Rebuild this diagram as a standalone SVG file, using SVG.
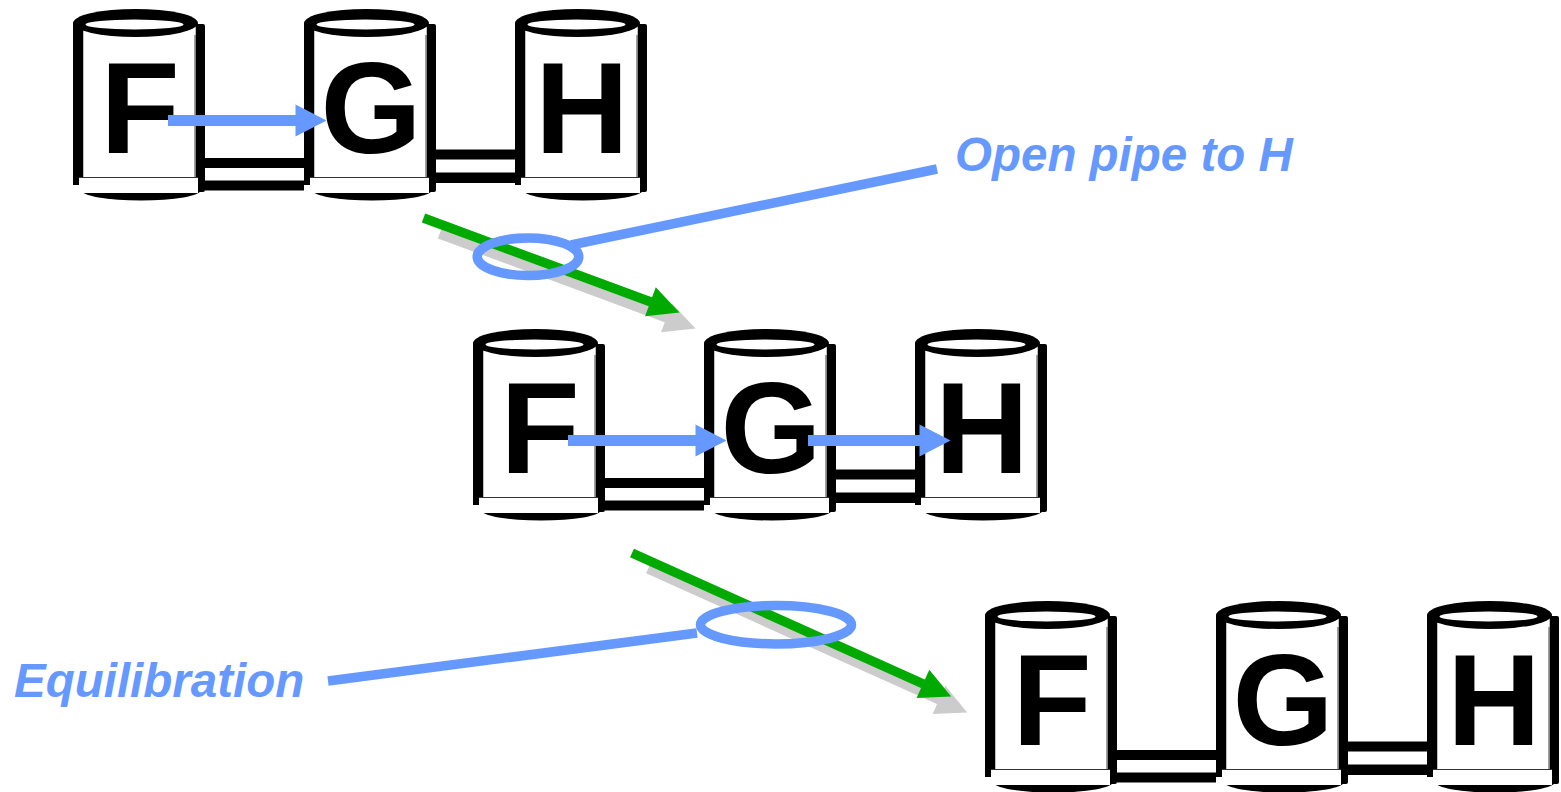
<svg xmlns="http://www.w3.org/2000/svg" xmlns:xlink="http://www.w3.org/1999/xlink" width="1561" height="792" viewBox="0 0 1561 792">
  <style>
    .letter { font-family: "Liberation Sans", Arial, sans-serif; font-weight: bold; font-size: 130px; text-anchor: middle; fill: #000; }
    .label { font-family: "Liberation Sans", Arial, sans-serif; font-weight: bold; font-style: italic; font-size: 47.5px; fill: #6699FF; }
    .pipe { fill: #000; }
    .flow { stroke: #6699FF; stroke-width: 11; fill: none; marker-end: url(#blueHead); }
    .step { stroke: #00AA00; stroke-width: 9.5; fill: none; marker-end: url(#greenHead); }
    .step-shadow { stroke: #CCCCCC; stroke-width: 9.5; fill: none; marker-end: url(#grayHead); }
    .callout { stroke: #6699FF; stroke-width: 9.5; fill: none; }
  </style>
  <defs>
    <!-- storage tank: top at y=0, left wall at x=0 -->
    <g id="cyl">
      <ellipse cx="68" cy="181" rx="60" ry="10.5" fill="#000"/>
      <rect x="122.5" y="15" width="9.5" height="168" rx="2" fill="#000"/>
      <rect x="0" y="14" width="10.5" height="162" fill="#000"/>
      <rect x="10.5" y="14" width="112" height="154" fill="#fff"/>
      <line x1="122" y1="26" x2="122" y2="168" stroke="#444" stroke-width="1"/>
      <rect x="6" y="168" width="119" height="16" fill="#fff"/>
      <line x1="6" y1="168.5" x2="125" y2="168.5" stroke="#333" stroke-width="1"/>
      <ellipse cx="62.5" cy="14" rx="62.5" ry="14" fill="#000"/>
      <ellipse cx="61.5" cy="15.5" rx="49" ry="5" fill="#fff"/>
    </g>
    <marker id="blueHead" markerUnits="userSpaceOnUse" markerWidth="31" markerHeight="32" refX="0.5" refY="16" orient="auto" overflow="visible">
      <path d="M0,0 L31,16 L0,32 Z" fill="#6699FF"/>
    </marker>
    <marker id="greenHead" markerUnits="userSpaceOnUse" markerWidth="31" markerHeight="31" refX="0.5" refY="15.5" orient="auto" overflow="visible">
      <path d="M0,0 L31,15.5 L0,31 Z" fill="#00AA00"/>
    </marker>
    <marker id="grayHead" markerUnits="userSpaceOnUse" markerWidth="31" markerHeight="31" refX="0.5" refY="15.5" orient="auto" overflow="visible">
      <path d="M0,0 L31,15.5 L0,31 Z" fill="#CCCCCC"/>
    </marker>
  </defs>

  <rect width="1561" height="792" fill="#fff"/>

  <!-- stage 1 -->
  <g id="s1-F" transform="translate(73,9)"><use xlink:href="#cyl"/><text class="letter" x="67" y="144">F</text></g>
  <g id="s1-G" transform="translate(304,9)"><use xlink:href="#cyl"/><text class="letter" x="67" y="144">G</text></g>
  <g id="s1-H" transform="translate(515,9)"><use xlink:href="#cyl"/><text class="letter" x="67" y="144">H</text></g>

  <!-- stage 2 -->
  <g id="s2-F" transform="translate(473,329)"><use xlink:href="#cyl"/><text class="letter" x="67" y="144">F</text></g>
  <g id="s2-G" transform="translate(704,329)"><use xlink:href="#cyl"/><text class="letter" x="67" y="144">G</text></g>
  <g id="s2-H" transform="translate(915,329)"><use xlink:href="#cyl"/><text class="letter" x="67" y="144">H</text></g>

  <!-- stage 3 -->
  <g id="s3-F" transform="translate(985,601)"><use xlink:href="#cyl"/><text class="letter" x="67" y="144">F</text></g>
  <g id="s3-G" transform="translate(1216,601)"><use xlink:href="#cyl"/><text class="letter" x="67" y="144">G</text></g>
  <g id="s3-H" transform="translate(1427,601)"><use xlink:href="#cyl"/><text class="letter" x="67" y="144">H</text></g>

  <g id="connectors">
    <!-- pipes between tanks -->
    <rect class="pipe" x="205" y="158" width="99" height="10"/>
    <rect class="pipe" x="205" y="180.5" width="99" height="10"/>
    <rect class="pipe" x="436" y="149.5" width="79" height="10"/>
    <rect class="pipe" x="436" y="172.5" width="79" height="10.5"/>

    <rect class="pipe" x="605" y="478" width="99" height="10"/>
    <rect class="pipe" x="605" y="500.5" width="99" height="10"/>
    <rect class="pipe" x="836" y="469.5" width="79" height="10"/>
    <rect class="pipe" x="836" y="492.5" width="79" height="10.5"/>

    <rect class="pipe" x="1117" y="750" width="99" height="10"/>
    <rect class="pipe" x="1117" y="772.5" width="99" height="10"/>
    <rect class="pipe" x="1348" y="741.5" width="79" height="10"/>
    <rect class="pipe" x="1348" y="764.5" width="79" height="10.5"/>

    <!-- flow arrows -->
    <line class="flow" x1="168" y1="120.5" x2="296" y2="120.5"/>
    <line class="flow" x1="568" y1="440.5" x2="696" y2="440.5"/>
    <line class="flow" x1="808" y1="440.5" x2="920" y2="440.5"/>

    <!-- stage transitions -->
    <line class="step-shadow" x1="439.5" y1="234" x2="666.9" y2="318"/>
    <line class="step" x1="423.5" y1="218" x2="650.9" y2="302"/>
    <line class="step-shadow" x1="648" y1="569" x2="939.4" y2="700"/>
    <line class="step" x1="632" y1="553" x2="923.4" y2="684"/>
  </g>

  <g id="callouts">
    <ellipse class="callout" cx="528" cy="256.7" rx="50.8" ry="18.8"/>
    <line class="callout" x1="571" y1="245" x2="937" y2="169"/>
    <text class="label" x="955" y="171">Open pipe to H</text>

    <ellipse class="callout" cx="776" cy="624.7" rx="75.5" ry="19.2"/>
    <line class="callout" x1="328" y1="681" x2="697" y2="633"/>
    <text class="label" x="14" y="697">Equilibration</text>
  </g>
</svg>
